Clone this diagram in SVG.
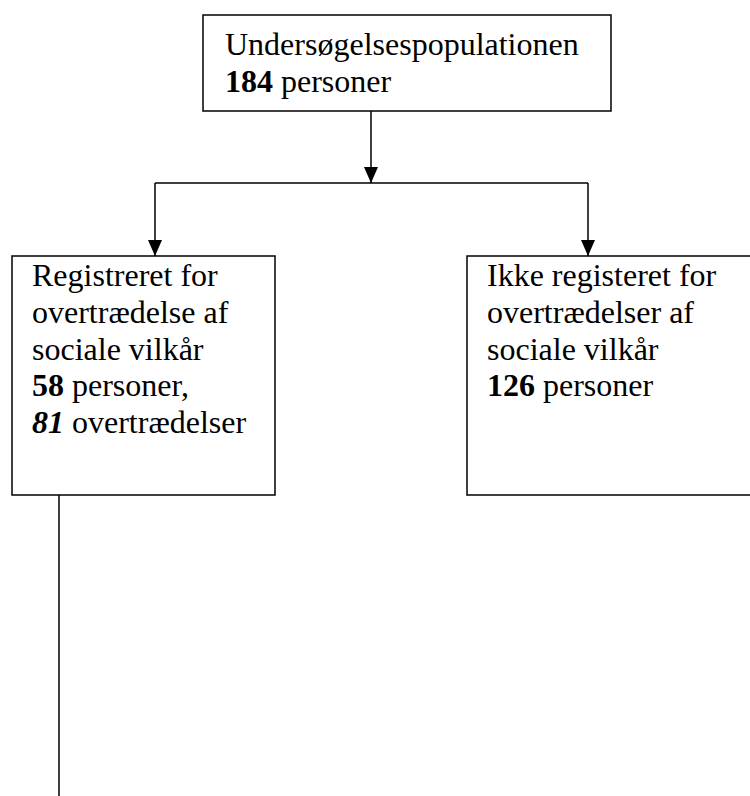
<svg xmlns="http://www.w3.org/2000/svg" width="750" height="796" viewBox="0 0 750 796">
<style>
.box{fill:#fff;stroke:#000;stroke-width:1.5}
.t{font-family:"Liberation Serif","Times New Roman",serif;font-size:32px;fill:#000}
.b{font-weight:bold}
.bi{font-weight:bold;font-style:italic}
.ln{fill:none;stroke:#000;stroke-width:1.5}
</style>
<defs>
<marker id="ah" viewBox="0 0 16 14" refX="16" refY="7" markerWidth="16" markerHeight="14" markerUnits="userSpaceOnUse" orient="auto">
<path d="M0,0 L16,7 L0,14 Z" fill="#000"/>
</marker>
</defs>
<rect width="750" height="796" fill="#fff"/>
<g id="connectors">
<line class="ln" x1="371" y1="111" x2="371" y2="183" marker-end="url(#ah)"/>
<polyline class="ln" points="155,183 588,183"/>
<line class="ln" x1="155" y1="183" x2="155" y2="256" marker-end="url(#ah)"/>
<line class="ln" x1="588" y1="183" x2="588" y2="256" marker-end="url(#ah)"/>
<line class="ln" x1="59" y1="495" x2="59" y2="796"/>
</g>
<g id="node-top">
<rect class="box" x="203" y="15" width="408" height="96"/>
<text class="t" x="225" y="55">Undersøgelsespopulationen</text>
<text class="t" x="225" y="92"><tspan class="b">184</tspan> personer</text>
</g>
<g id="node-left">
<rect class="box" x="12" y="256" width="263" height="239"/>
<text class="t" x="32" y="286">Registreret for</text>
<text class="t" x="32" y="323">overtrædelse af</text>
<text class="t" x="32" y="360">sociale vilkår</text>
<text class="t" x="32" y="396"><tspan class="b">58</tspan> personer,</text>
<text class="t" x="32" y="433"><tspan class="bi">81</tspan> overtrædelser</text>
</g>
<g id="node-right">
<rect class="box" x="467" y="256" width="290" height="239"/>
<text class="t" x="487" y="286">Ikke registeret for</text>
<text class="t" x="487" y="323">overtrædelser af</text>
<text class="t" x="487" y="360">sociale vilkår</text>
<text class="t" x="487" y="396"><tspan class="b">126</tspan> personer</text>
</g>
</svg>
